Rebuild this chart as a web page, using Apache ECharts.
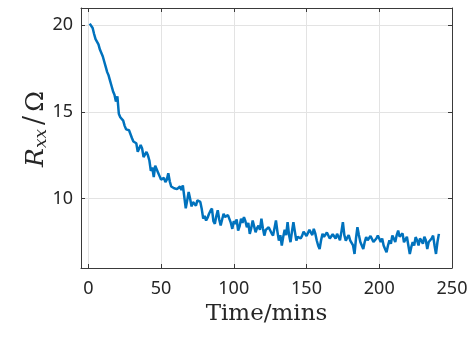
<!DOCTYPE html>
<html>
<head>
<meta charset="utf-8">
<script src="https://cdn.jsdelivr.net/npm/echarts@6/dist/echarts.min.js"></script>
<style>html,body{margin:0;padding:0;background:#fff;}#c{width:473px;height:337px;}</style>
</head>
<body>
<div id="c"></div>
<script>
const times = [1,2,3,4,5,6,7,8,9,10,11,12,13,14,15,16,17,18,19,20,21,22,23,24,25,26,27,28,29,30,31,32,33,34,35,36,37,38,39,40,41,42,43,44,45,46,47,48,49,50,51,52,53,54,55,56,57,58,59,60,61,62,63,64,65,66,67,68,69,70,71,72,73,74,75,76,77,78,79,80,81,82,83,84,85,86,87,88,89,90,91,92,93,94,95,96,97,98,99,100,101,102,103,104,105,106,107,108,109,110,111,112,113,114,115,116,117,118,119,120,121,122,123,124,125,126,127,128,129,130,131,132,133,134,135,136,137,138,139,140,141,142,143,144,145,146,147,148,149,150,151,152,153,154,155,156,157,158,159,160,161,162,163,164,165,166,167,168,169,170,171,172,173,174,175,176,177,178,179,180,181,182,183,184,185,186,187,188,189,190,191,192,193,194,195,196,197,198,199,200,201,202,203,204,205,206,207,208,209,210,211,212,213,214,215,216,217,218,219,220,221,222,223,224,225,226,227,228,229,230,231,232,233,234,235,236,237,238,239,240,241];
const resistance = [20.1,20.0,19.85,19.5,19.2,19.25,18.9,18.6,18.4,18.2,17.9,17.6,17.3,17.1,16.8,16.5,16.2,16.0,15.6,15.9,14.9,14.7,14.8,14.5,14.2,14.0,13.9,13.95,13.85,13.5,13.3,13.4,13.2,12.7,12.6,13.1,12.9,12.4,12.3,12.7,12.5,12.2,11.6,11.8,11.25,11.9,11.7,11.5,11.3,11.1,11.0,11.2,10.96,11.1,11.47,11.0,10.7,10.8,10.6,10.65,10.55,10.6,10.7,10.5,10.77,10.1,9.44,9.9,10.38,10.0,9.55,9.8,9.72,9.6,9.9,9.85,9.81,9.4,8.85,9.0,8.74,8.9,9.13,9.3,9.43,8.7,8.55,9.0,9.33,8.8,8.45,8.8,9.13,8.95,8.9,9.05,8.94,8.6,8.26,8.7,8.55,8.8,8.16,8.4,8.84,8.6,8.94,8.7,8.35,8.6,7.97,8.3,8.74,8.4,8.06,8.3,8.45,8.2,8.84,8.3,7.87,8.2,8.1,8.35,8.26,8.0,7.87,8.3,8.74,8.1,7.58,7.9,7.3,7.8,8.2,7.9,8.64,7.9,7.49,8.1,8.64,8.1,7.58,7.8,7.9,7.7,7.87,8.1,8.06,7.85,7.95,8.2,8.1,7.9,8.26,8.0,7.6,7.3,7.1,7.6,7.97,7.8,7.75,8.05,8.0,7.7,7.78,7.95,7.85,7.7,7.97,7.8,7.6,8.1,8.64,7.9,7.58,7.75,7.9,7.6,7.68,7.3,6.81,7.7,8.35,7.9,7.5,7.3,7.1,7.5,7.78,7.6,7.5,7.85,7.8,7.5,7.58,7.7,7.87,7.7,7.5,7.7,7.3,7.1,6.91,7.3,7.6,7.4,7.87,7.7,7.5,7.9,8.16,7.8,7.7,8.0,7.49,7.6,7.8,7.3,6.81,7.2,7.5,7.3,7.78,7.6,7.3,7.7,7.58,7.4,7.8,7.6,7.1,7.5,7.4,7.7,7.87,7.3,6.81,7.5,7.97];
const xTicks = [0,50,100,150,200,250];
const yTicks = [10,15,20];

const data = times.map((t,i)=>[t,resistance[i]]);
const axisColor = '#3a3a3a';
const labelStyle = {color:'#262626', fontFamily:'Noto Sans', fontSize:18};
const chart = echarts.init(document.getElementById('c'), null, {renderer:'canvas'});
chart.setOption({
  animation:false,
  grid:{left:81, top:8, right:21, bottom:69, containLabel:false},
  xAxis:[{
    type:'value', min:-5, max:250, position:'bottom',
    axisLine:{show:true, onZero:false, lineStyle:{color:axisColor, width:1}},
    axisTick:{show:true, inside:true, length:4, customValues:xTicks, lineStyle:{color:axisColor}},
    axisLabel:{customValues:xTicks, margin:12, ...labelStyle},
    splitLine:{show:true, lineStyle:{color:'#e3e3e3', width:1}},
    name:'Time/mins', nameLocation:'middle', nameGap:35,
    nameTextStyle:{fontFamily:'DejaVu Serif', fontSize:23, color:'#262626'}
  },{
    type:'value', min:-5, max:250, position:'top',
    axisLine:{show:true, onZero:false, lineStyle:{color:axisColor, width:1}},
    axisTick:{show:true, inside:true, length:4, customValues:xTicks, lineStyle:{color:axisColor}},
    axisLabel:{show:false}, splitLine:{show:false}
  }],
  yAxis:[{
    type:'value', min:6, max:21, position:'left',
    axisLine:{show:true, onZero:false, lineStyle:{color:axisColor, width:1}},
    axisTick:{show:true, inside:true, length:4, customValues:yTicks, lineStyle:{color:axisColor}},
    axisLabel:{customValues:yTicks, margin:8, ...labelStyle},
    splitLine:{show:true, lineStyle:{color:'#e3e3e3', width:1}},
    name:'{i|R}{s|xx}{n|/}{o|Ω}', nameLocation:'middle', nameGap:31, nameRotate:90,
    nameMoveOverlap:false,
    nameTextStyle:{
      padding:[0,0,0,18],
      rich:{
        i:{fontFamily:'DejaVu Serif', fontStyle:'italic', fontSize:25, color:'#262626', lineHeight:28},
        s:{fontFamily:'DejaVu Serif', fontStyle:'italic', fontSize:17, color:'#262626', verticalAlign:'bottom', lineHeight:18},
        n:{fontFamily:'DejaVu Serif', fontSize:27, color:'#262626', lineHeight:28, padding:[0,4,0,4]},
        o:{fontFamily:'DejaVu Serif', fontSize:25, color:'#262626', lineHeight:28}
      }
    }
  },{
    type:'value', min:6, max:21, position:'right',
    axisLine:{show:true, onZero:false, lineStyle:{color:axisColor, width:1}},
    axisTick:{show:true, inside:true, length:4, customValues:yTicks, lineStyle:{color:axisColor}},
    axisLabel:{show:false}, splitLine:{show:false}
  }],
  series:[{
    type:'line', data:data, xAxisIndex:0, yAxisIndex:0,
    showSymbol:false, symbol:'none',
    lineStyle:{color:'#0072BD', width:2.5}, itemStyle:{color:'#0072BD'}
  }]
});
</script>
</body>
</html>
